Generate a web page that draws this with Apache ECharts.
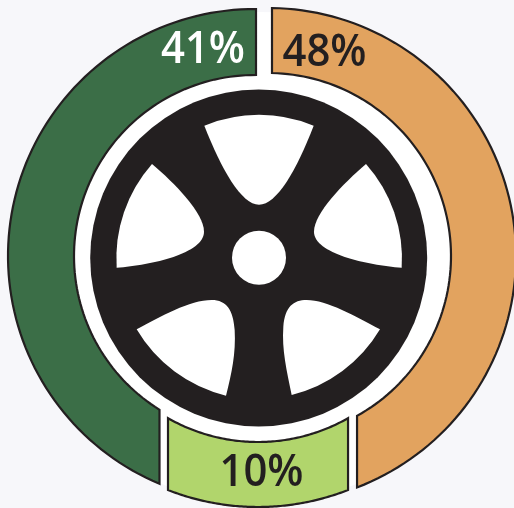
<!DOCTYPE html>
<html><head><meta charset="utf-8">
<style>html,body{margin:0;padding:0;background:#f7f7fa}#c{width:514px;height:508px}</style>
<script src="https://cdn.jsdelivr.net/npm/echarts@6/dist/echarts.min.js"></script>
</head><body><div id="c"></div>
<script>
// Data, clockwise from the top of the ring
var categories = ['Orange', 'Lime', 'Green'];
var percents = [48, 10, 41];
// Share of the ring each band actually occupies in the picture (bands are not drawn to scale)
var ringShares = [43.96, 11.98, 44.06];
var colors = ['#e2a35f', '#b1d56c', '#3b6e47'];
var textColors = ['#231f20', '#231f20', '#ffffff'];

// Layout constants: every band is exploded around its own centre
var W = 514, H = 508, CX = 259, CY = 258;
var CENTERS = [[268, 256], [258, 260], [255, 256]];
var R_OUTS = [248, 247, 247], R_INS = [183, 182, 181], R_REF = 248;
var START_DEG = 0.578;
var GAPS = [3, -1, 5.5];
var LABEL_AT = [[324.5, 53], [261.5, 473], [203, 50]];
var INK = '#231f20';
var FONT = '600 46px "Open Sans"';

function edgeAngle(a, side, gap, r) {
  var x = R_REF * Math.sin(a) + side * gap / 2 * (Math.cos(a) >= 0 ? 1 : -1);
  var b = Math.asin(x / r);
  if (Math.cos(a) < 0) b = Math.PI - b;
  while (b < a - Math.PI) b += 2 * Math.PI;
  while (b > a + Math.PI) b -= 2 * Math.PI;
  return b;
}
function renderBand(params, api) {
  var i = params.dataIndex, n = categories.length, before = 0, total = 0;
  for (var k = 0; k < n; k++) { total += ringShares[k]; if (k < i) before += ringShares[k]; }
  var a0 = (START_DEG + before / total * 360) * Math.PI / 180;
  var a1 = a0 + api.value(1) / total * 2 * Math.PI;
  var g0 = GAPS[i], g1 = GAPS[(i + 1) % n];
  var cx = CENTERS[i][0], cy = CENTERS[i][1], ro = R_OUTS[i], ri = R_INS[i];
  var pts = [], s, STEPS = 90, b0, b1;
  b0 = edgeAngle(a0, 1, g0, ro); b1 = edgeAngle(a1, -1, g1, ro);
  for (s = 0; s <= STEPS; s++) {
    var a = b0 + (b1 - b0) * s / STEPS;
    pts.push(api.coord([cx + ro * Math.sin(a), cy - ro * Math.cos(a)]));
  }
  b0 = edgeAngle(a0, 1, g0, ri); b1 = edgeAngle(a1, -1, g1, ri);
  for (s = STEPS; s >= 0; s--) {
    var c = b0 + (b1 - b0) * s / STEPS;
    pts.push(api.coord([cx + ri * Math.sin(c), cy - ri * Math.cos(c)]));
  }
  var at = api.coord(LABEL_AT[i]);
  return {
    type: 'group',
    children: [
      { type: 'polygon', shape: { points: pts },
        style: { fill: colors[i], stroke: INK, lineWidth: 2.2, lineJoin: 'miter' } },
      { type: 'text', x: at[0], y: at[1], scaleX: 0.91,
        style: { text: api.value(0) + '%', font: FONT, fill: textColors[i], align: 'center', verticalAlign: 'middle' } }
    ]
  };
}

// Wheel artwork, drawn in a 3x local space around the hub
var windows = [
  'M343,107 A428,428 0 0 1 671,107 C620,240 560,344 507,344 C455,344 395,240 343,107 Z',
  'M828,222 A428,428 0 0 1 935,533 C830,525 672,490 672,425 C672,370 760,280 828,222 Z',
  'M186,222 A428,428 0 0 0 80,533 C185,525 342,490 342,425 C342,370 255,280 186,222 Z',
  'M870,718 A428,428 0 0 1 605,915 C590,840 575,780 580,710 C585,650 610,630 650,630 C710,630 800,680 870,718 Z',
  'M140,718 C210,680 300,630 365,630 C410,630 430,660 434,720 C438,790 425,850 408,917 A428,428 0 0 1 140,718 Z'
];
function renderWheel() {
  var kids = [
    { type: 'circle', shape: { cx: CX, cy: CY, r: 246 }, style: { fill: '#ffffff' } },
    { type: 'circle', shape: { cx: 258.7, cy: 258, r: 168.5 }, style: { fill: INK } },
    { type: 'circle', shape: { cx: 259, cy: 257.7, r: 27 }, style: { fill: '#ffffff' } }
  ];
  windows.forEach(function (d) {
    kids.push({ type: 'group', x: 90, y: 90, scaleX: 1 / 3, scaleY: 1 / 3,
      children: [{ type: 'path', shape: { pathData: d }, style: { fill: '#ffffff' } }] });
  });
  return { type: 'group', children: kids };
}

var chart = echarts.init(document.getElementById('c'), null, { renderer: 'canvas' });
chart.setOption({
  animation: false,
  backgroundColor: '#f7f7fa',
  grid: { left: 0, right: 0, top: 0, bottom: 0 },
  xAxis: { type: 'value', min: 0, max: W, show: false },
  yAxis: { type: 'value', min: 0, max: H, inverse: true, show: false },
  series: [{
    type: 'custom',
    coordinateSystem: 'none',
    z: 1,
    silent: true,
    renderItem: renderWheel,
    data: [0]
  }, {
    type: 'custom',
    coordinateSystem: 'cartesian2d',
    z: 2,
    clip: false,
    renderItem: renderBand,
    encode: { x: 0, y: 1 },
    data: categories.map(function (name, i) { return { name: name, value: [percents[i], ringShares[i]] }; })
  }]
});
</script></body></html>
